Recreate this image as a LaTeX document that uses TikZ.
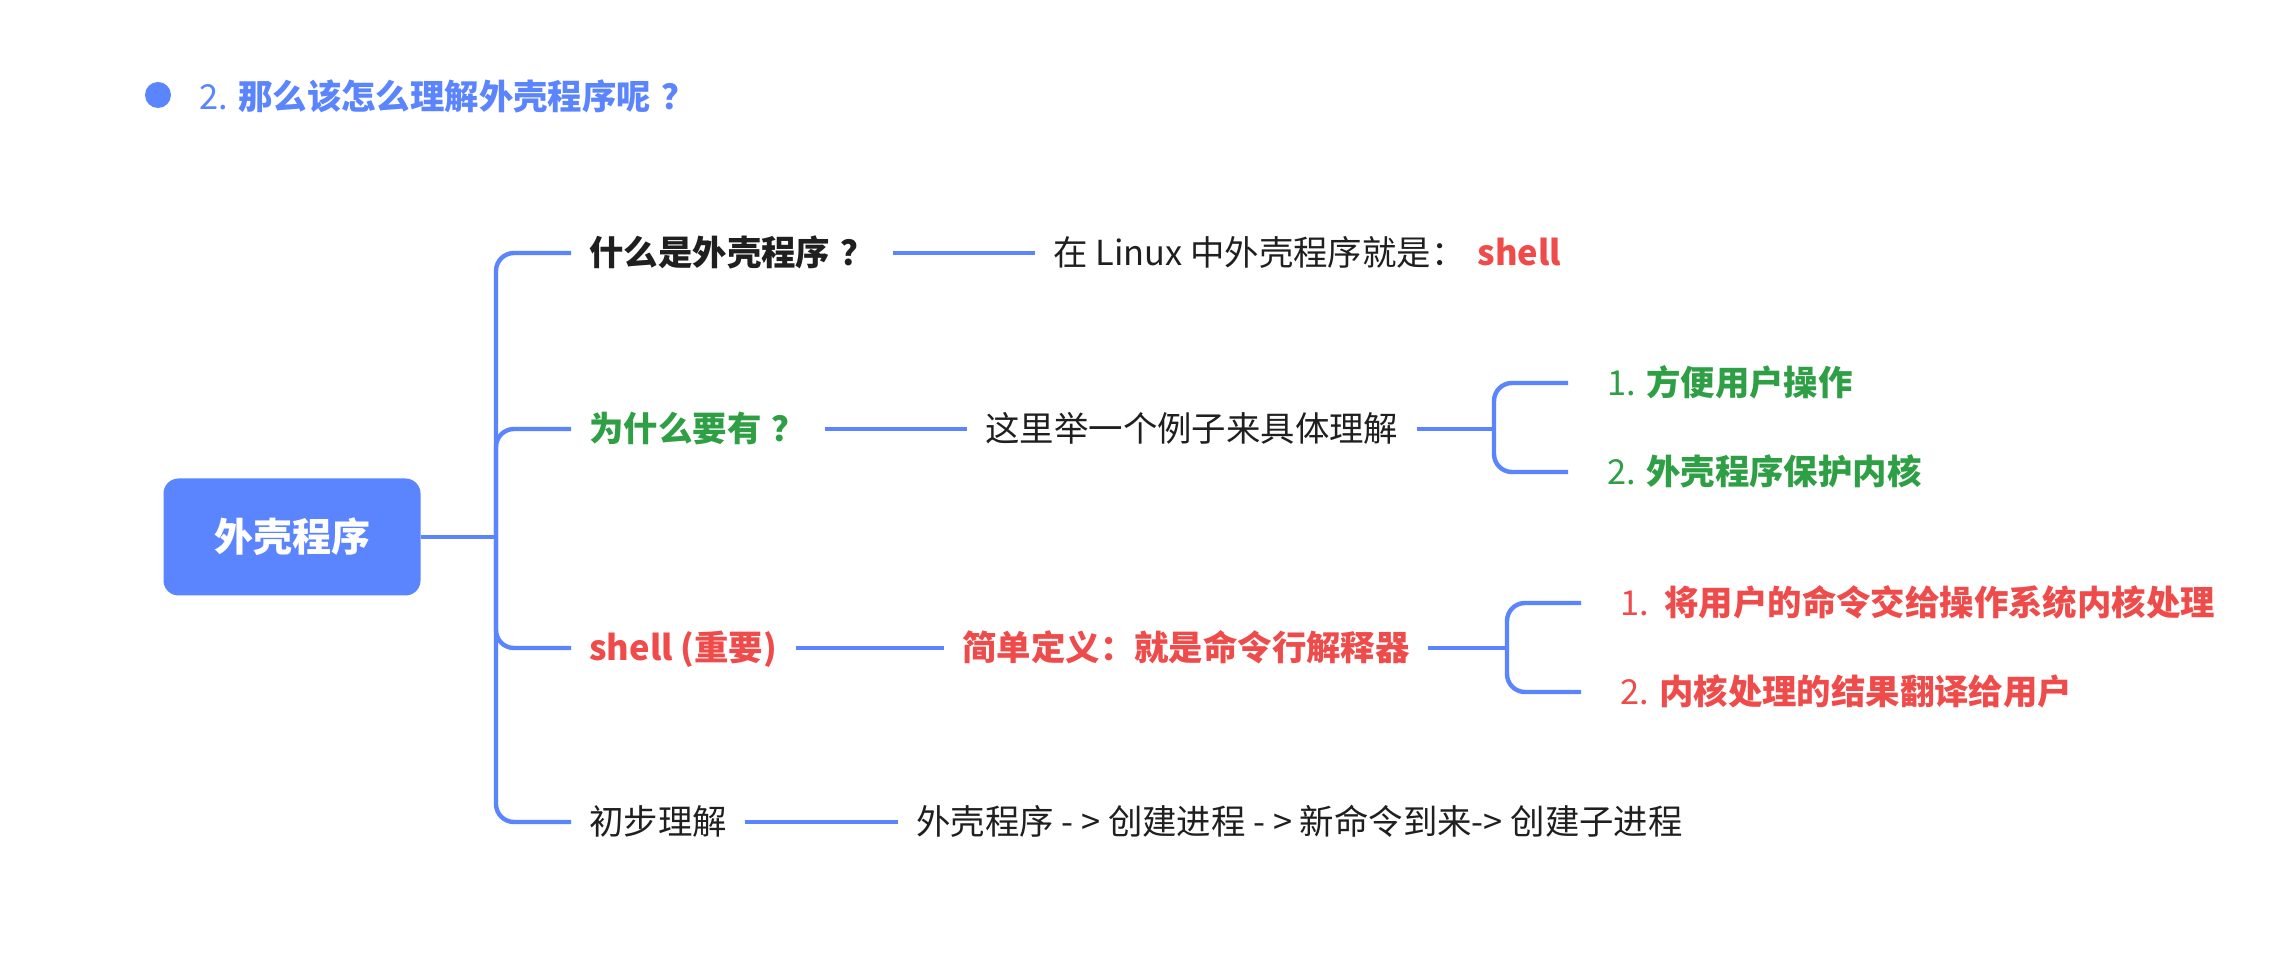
\documentclass[tikz,border=0pt]{standalone}
\usepackage{fontspec}
\setmainfont{Noto Sans CJK SC}
\definecolor{lblue}{HTML}{5B84FF}
\definecolor{tgreen}{HTML}{2F9F45}
\definecolor{tred}{HTML}{F04B4B}
\definecolor{tblack}{HTML}{1F1F1F}
\newcommand{\qmark}{\hspace{0.3em}？\hspace{-0.45em}}
\tikzset{
  ln/.style={draw=lblue, line width=2.2pt},
  thin/.style={draw=lblue, line width=1.7pt},
  txt/.style={anchor=west, inner xsep=9pt, inner ysep=0pt, text height=14pt, text depth=1.2pt,
    font=\fontsize{17.2}{20}\selectfont, text=tblack},
  bold/.style={font=\fontsize{17.2}{20}\selectfont\bfseries},
  leaf/.style={txt, inner xsep=19.5pt},
}
\begin{document}
\begin{tikzpicture}[x=0.5pt, y=-0.5pt]
\useasboundingbox[fill=white] (0,0) rectangle (2281,956);
% title
\node[circle, fill=lblue, minimum size=13pt, inner sep=0pt] (bullet) at (158,95) {};
\node[txt, inner xsep=0pt, text=lblue] (title) at (199,97) {2. \textbf{那么该怎么理解外壳程序呢\qmark}};
% root
\node[fill=lblue, rounded corners=7.5pt, minimum width=128.5pt, minimum height=58.5pt,
  text=white, font=\fontsize{19.5}{22}\selectfont\bfseries] (root) at (292,537) {外壳程序};
\coordinate (tr) at (496,537);
% level 1
\node[txt, bold] (b1) at (571,253) {什么是外壳程序\qmark};
\node[txt, bold, text=tgreen] (b2) at (571,429) {为什么要有\qmark};
\node[txt, bold, text=tred] (b3) at (571,648) {shell (重要)};
\node[txt] (b4) at (571,822) {初步理解};
% level 2
\node[txt] (b1d) at (1035,253) {在 Linux 中外壳程序就是：\hspace{6pt}\textcolor{tred}{\bfseries shell}};
\node[txt] (b2d) at (967,429) {这里举一个例子来具体理解};
\node[txt, bold, text=tred] (b3d) at (944,648) {简单定义：就是命令行解释器};
\node[txt] (b4d) at (898,822) {外壳程序 - > 创建进程 - > 新命令到来-> 创建子进程};
% level 3
\coordinate (k2) at (1494,429);
\coordinate (k3) at (1507,648);
\node[leaf, text=tgreen] (b2a) at (1568,383) {1. \textbf{方便用户操作}};
\node[leaf, text=tgreen] (b2b) at (1568,472) {2. \textbf{外壳程序保护内核}};
\node[leaf, text=tred] (b3a) at (1581,603) {1.\ \ \textbf{将用户的命令交给操作系统内核处理}};
\node[leaf, text=tred] (b3b) at (1581,692) {2. \textbf{内核处理的结果翻译给用户}};
% connectors
\draw[ln] (root.east) -- (tr);
\draw[ln, rounded corners=9pt] (b1.west) -| (tr) |- (b4.west);
\draw[ln, rounded corners=9pt] (b2.west) -| (tr);
\draw[ln, rounded corners=9pt] (b3.west) -| (tr);
\draw[ln] (b1.east) -- (b1d.west);
\draw[ln] (b2.east) -- (b2d.west);
\draw[ln] (b3.east) -- (b3d.west);
\draw[ln] (b4.east) -- (b4d.west);
\draw[thin] (b2d.east) -- (k2);
\draw[ln, rounded corners=9pt] (b2a.west) -| (k2) |- (b2b.west);
\draw[thin] (b3d.east) -- (k3);
\draw[ln, rounded corners=9pt] (b3a.west) -| (k3) |- (b3b.west);
\end{tikzpicture}
\end{document}
